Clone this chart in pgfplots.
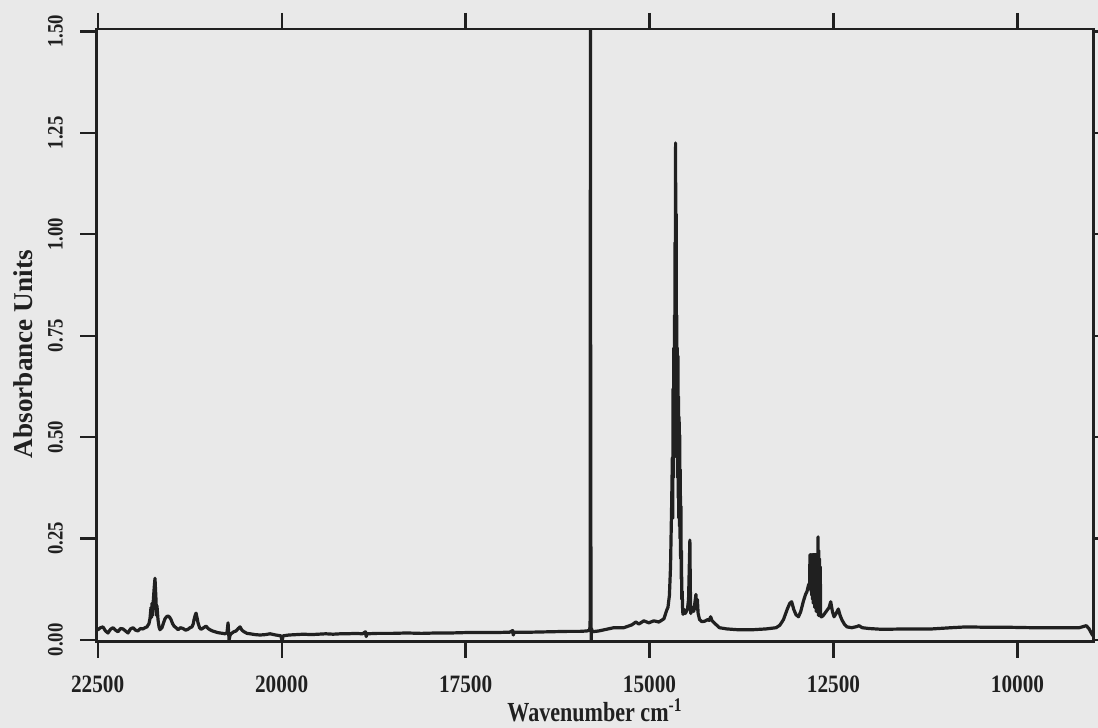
\documentclass[border=0pt]{standalone}
\usepackage{pgfplots}
\pgfplotsset{compat=1.18}
\usepackage{fontspec}
\setmainfont{Liberation Serif}
\newfontfamily\tickf[FakeStretch=0.85]{Liberation Serif}
\newfontfamily\xlabf[FakeStretch=0.8]{Liberation Serif}
\definecolor{paper}{RGB}{233,233,233}
\definecolor{ink}{RGB}{32,32,32}

\begin{document}
\begin{tikzpicture}
\fill[paper] (-48.25pt,-43.25pt) rectangle (500.75pt,320.75pt);
\begin{axis}[
  scale only axis, width=498.5pt, height=306.25pt,
  x dir=reverse,
  xmin=8967, xmax=22516, ymin=-0.004, ymax=1.506,
  axis line style={ink, line width=1.4pt},
  every tick/.style={ink, line width=1.1pt},
  major tick length=8pt, tick align=outside,
  xtick pos=both, ytick pos=both,
  xtick={10000,12500,15000,17500,20000,22500},
  ytick={0,0.25,0.5,0.75,1,1.25,1.5},
  scaled x ticks=false,
  /pgf/number format/assume math mode=true,
  xticklabel style={/pgf/number format/1000 sep={}, font=\fontsize{12.5}{14}\tickf\bfseries, anchor=north, inner sep=0pt, text=ink},
  yticklabel style={/pgf/number format/.cd, fixed, fixed zerofill, precision=2, /tikz/.cd,
    font=\fontsize{11}{13}\tickf\bfseries, rotate=90, anchor=south, inner sep=0pt, text=ink},
  xticklabel shift=9.2pt, yticklabel shift=8.6pt,
  xlabel={Wavenumber cm\textsuperscript{-1}},
  xlabel style={at={(axis description cs:0.5,0)}, anchor=base, yshift=-40pt, inner sep=0pt,
    font=\fontsize{13.8}{16}\xlabf\bfseries, text=ink},
  ylabel={Absorbance Units},
  ylabel style={at={(axis description cs:0,0.469)}, anchor=base, yshift=32.1pt, inner sep=0pt,
    font=\fontsize{13.6}{16}\bfseries, text=ink},
]
\addplot[ink, line width=1.6pt, line join=round] coordinates {
(22510,0.026)(22496,0.025)(22462,0.030)(22428,0.032)(22394,0.022)(22360,0.017)
(22326,0.026)(22292,0.030)(22258,0.024)(22224,0.020)(22190,0.028)(22156,0.027)
(22122,0.022)(22088,0.017)(22054,0.027)(22020,0.030)(21986,0.024)(21952,0.022)
(21918,0.028)(21884,0.027)(21856,0.030)(21830,0.032)(21803,0.040)(21789,0.052)
(21775,0.080)(21768,0.055)(21762,0.090)(21755,0.060)(21748,0.085)(21734,0.123)
(21721,0.152)(21707,0.098)(21700,0.060)(21694,0.084)(21680,0.050)(21666,0.032)
(21653,0.025)(21626,0.030)(21605,0.042)
(21585,0.052)(21564,0.057)(21544,0.059)(21523,0.056)(21503,0.050)(21482,0.040)
(21462,0.034)(21435,0.030)(21408,0.025)(21374,0.030)(21340,0.028)(21306,0.024)
(21272,0.026)(21245,0.030)(21218,0.032)(21200,0.040)(21190,0.050)(21176,0.060)
(21163,0.066)(21150,0.055)(21136,0.042)(21115,0.030)(21095,0.026)(21060,0.030)
(21027,0.034)(21000,0.028)(20973,0.025)(20940,0.022)(20905,0.020)(20870,0.018)
(20837,0.017)(20800,0.016)(20769,0.015)(20742,0.018)(20728,0.042)(20721,0.020)
(20714,0.000)(20700,0.012)(20687,0.015)(20650,0.020)(20619,0.022)(20590,0.028)
(20565,0.032)(20540,0.024)(20510,0.020)(20470,0.016)(20429,0.015)(20360,0.013)
(20293,0.012)(20220,0.013)(20157,0.015)(20080,0.012)(20010,0.010)(19994,-0.003)
(19980,0.010)(19900,0.012)(19800,0.013)(19700,0.014)(19600,0.013)(19500,0.014)
(19400,0.015)(19300,0.014)(19200,0.015)(19100,0.015)(19000,0.016)(18900,0.015)
(18860,0.020)(18851,0.008)(18840,0.015)(18700,0.016)(18500,0.016)(18300,0.017)
(18100,0.016)(17900,0.017)(17700,0.017)(17500,0.018)(17300,0.018)(17100,0.018)
(16900,0.019)(16860,0.023)(16852,0.012)(16840,0.019)(16600,0.019)(16349,0.020)
(16100,0.021)(15941,0.021)(15850,0.022)(15815,0.024)(15808,0.035)(15803,1.60)
(15799,0.21)(15797,0.23)(15794,-0.004)(15789,0.028)(15780,0.020)(15690,0.022)
(15486,0.030)(15350,0.030)(15241,0.037)(15186,0.044)(15145,0.039)(15078,0.047)
(15010,0.042)(14942,0.047)(14873,0.044)(14805,0.052)(14765,0.074)(14750,0.08)
(14730,0.11)(14715,0.18)(14700,0.33)
(14690,0.45)(14685,0.30)(14680,0.62)(14675,0.40)(14670,0.72)(14666,0.45)
(14662,0.80)(14658,0.50)(14654,0.98)(14650,0.55)(14646,1.225)(14642,0.60)
(14638,1.05)(14634,0.55)(14630,0.80)(14626,0.45)(14622,0.72)(14618,0.40)
(14614,0.70)(14610,0.35)(14606,0.60)(14602,0.30)(14598,0.55)(14594,0.28)
(14590,0.505)(14586,0.25)(14582,0.42)(14578,0.20)(14574,0.33)(14570,0.15)
(14566,0.22)(14562,0.10)(14556,0.12)(14550,0.07)(14545,0.063)
(14530,0.075)(14515,0.065)(14500,0.07)(14485,0.075)(14470,0.10)(14460,0.18)
(14452,0.246)(14446,0.13)(14440,0.065)(14420,0.08)(14400,0.07)(14385,0.09)
(14370,0.112)(14360,0.075)(14350,0.10)(14340,0.065)(14320,0.05)(14290,0.045)
(14250,0.046)(14210,0.050)(14190,0.048)(14170,0.057)(14150,0.047)(14110,0.040)
(14050,0.030)(13950,0.027)(13800,0.025)(13600,0.025)(13416,0.027)(13280,0.030)
(13230,0.036)(13180,0.050)(13130,0.075)(13095,0.090)(13069,0.094)(13040,0.075)
(13010,0.062)(12976,0.057)(12945,0.070)(12910,0.095)(12880,0.112)(12861,0.119)
(12840,0.135)(12825,0.14)
(12820,0.21)(12815,0.13)(12810,0.21)(12805,0.12)(12800,0.21)(12795,0.11)
(12790,0.21)(12785,0.10)(12780,0.21)(12775,0.09)(12770,0.21)(12765,0.09)
(12760,0.21)(12755,0.08)(12750,0.21)(12745,0.08)(12740,0.21)(12735,0.07)
(12730,0.21)(12725,0.07)(12720,0.21)(12715,0.07)(12710,0.254)(12705,0.06)
(12700,0.22)(12695,0.06)(12690,0.20)(12685,0.06)(12680,0.18)(12675,0.057)
(12660,0.057)(12640,0.060)
(12600,0.070)(12560,0.080)(12538,0.094)(12515,0.070)(12493,0.057)(12465,0.065)
(12435,0.076)(12410,0.060)(12385,0.049)(12350,0.038)(12317,0.032)(12250,0.030)
(12180,0.033)(12153,0.035)(12110,0.030)(12017,0.028)(11840,0.026)(11500,0.027)
(11160,0.027)(10900,0.030)(10698,0.032)(10400,0.031)(10100,0.031)(9800,0.030)
(9500,0.030)(9160,0.030)(9065,0.035)(9030,0.028)(8997,0.017)(8975,0.010)
};
\end{axis}
\pgfresetboundingbox
\useasboundingbox (-48.25pt,-43.25pt) rectangle (500.75pt,320.75pt);
\end{tikzpicture}
\end{document}
